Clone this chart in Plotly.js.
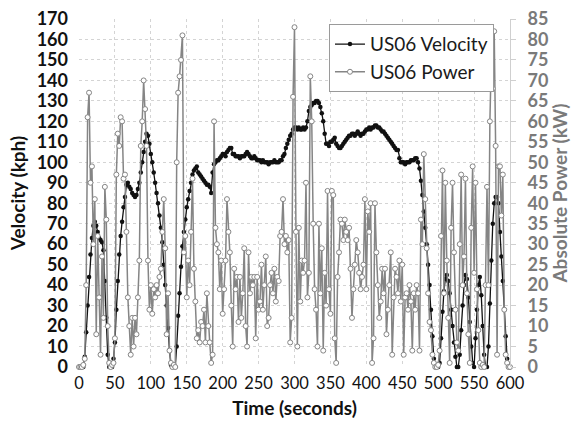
<!DOCTYPE html>
<html>
<head>
<meta charset="utf-8">
<script src="https://cdn.plot.ly/plotly-3.0.1.min.js"></script>
<style>
html,body{margin:0;padding:0;background:#fff;}
#chart{width:578px;height:424px;}
</style>
</head>
<body>
<div id="chart"></div>
<script>
// Sample times (seconds), one sample every 2 s from 0 to 600
const timeSec = [];
for (let i = 0; i <= 300; i++) timeSec.push(i * 2);

// US06 velocity (kph), every 2 s (each row = 20 s)
const velocityKph = [
  0,0,0,0,5,17,30,44,55,63,          // 0-18
  69,71,69,66,63,62,61,57,42,24,     // 20-38
  6,0,0,0,4,12,28,42,55,64,          // 40-58
  71,78,83,89,90,88,87,85,84,83,     // 60-78
  84,87,90,95,100,105,110,114,113,109, // 80-98
  104,100,95,90,85,80,74,68,61,50,   // 100-118
  40,30,19,8,1,0,0,0,10,25,          // 120-138
  36,49,59,66,72,78,82,86,90,94,     // 140-158
  96,97,98,95,94,93,92,91,90,89,     // 160-178
  89,88,85,95,99,100,101,101,102,103, // 180-198
  104,104,103,105,106,107,107,104,104,103, // 200-218
  103,103,102,103,103,103,104,105,104,103, // 220-238
  102,102,103,102,101,101,101,100,101,100, // 240-258
  100,100,99,100,100,100,101,100,100,100,  // 260-278
  101,101,103,104,107,109,111,113,114,116, // 280-298
  117,117,116,117,116,116,117,116,117,120, // 300-318
  125,127,128,129,129,130,130,129,127,124, // 320-338
  120,114,109,109,108,110,110,111,112,109, // 340-358
  108,107,107,108,109,110,111,112,113,113, // 360-378
  114,114,113,114,115,114,113,114,114,115, // 380-398
  116,116,117,116,117,117,118,118,117,117, // 400-418
  116,115,115,114,113,112,111,110,109,108, // 420-438
  107,106,106,102,100,100,100,99,100,100,  // 440-458
  100,101,101,101,102,102,100,97,91,84,    // 460-478
  76,68,60,50,40,28,15,4,0,0,              // 480-498
  0,2,14,27,37,43,45,42,36,28,             // 500-518
  20,12,5,0,0,6,18,30,40,45,               // 520-538
  43,34,22,10,2,0,14,28,40,44,             // 540-558
  35,20,6,0,0,10,31,52,70,80,              // 560-578
  83,83,80,66,54,42,28,15,4,0,             // 580-598
  0                                        // 600
];

// US06 absolute power (kW), every 2 s (each row = 20 s)
const powerKw = [
  0,0,0,0.5,2,20,61,67,45,49,        // 0-18
  30,41,8,32,17,3,27,12,44,36,       // 20-38
  10,1,0,0.5,1,7,47,57,54,61,        // 40-58
  60,46,47,33,17,10,3,12,5,12,       // 60-78
  8,17,26,54,60,70,63,54,26,14,      // 80-98
  20,13,19,17,20,18,22,24,33,41,     // 100-118
  29,8,18,4,1,0,0.5,0,50,67,         // 120-138
  71,75,81,28,32,17,26,20,33,46,     // 140-158
  24,16,7,9,6,11,10,14,6,18,         // 160-178
  10,6,1,3,60,34,30,28,19,26,        // 180-198
  13,19,26,41,33,28,15,5,24,19,      // 200-218
  22,11,22,12,18,29,10,5,28,18,      // 220-238
  22,20,22,7,22,14,16,25,14,20,      // 240-258
  27,10,12,20,23,18,24,16,22,21,     // 260-278
  32,33,41,30,32,28,31,6,12,66,      // 280-298
  83,33,5,34,16,26,23,26,45,17,      // 300-318
  23,71,60,35,19,14,5,35,18,29,      // 320-338
  4,23,15,43,19,13,43,42,7,1,        // 340-358
  22,28,36,35,31,36,33,31,34,24,     // 360-378
  12,19,25,31,28,23,19,22,25,41,     // 380-398
  19,38,33,40,1,7,40,28,20,12,       // 400-418
  16,24,18,24,8,14,20,28,3,17,       // 420-438
  24,22,18,26,16,25,3,17,18,14,      // 440-458
  20,16,4,18,14,20,18,4,36,30,       // 460-478
  52,41,29,18,11,9,3,1,0,0,          // 480-498
  0.5,4,32,48,18,45,26,12,1,34,      // 500-518
  45,28,14,6,4,30,47,20,27,46,       // 520-538
  18,8,1,34,49,23,45,19,9,1,         // 540-558
  0,0.5,0,20,44,20,60,75,68,82,      // 560-578
  54,3,49,49,37,47,14,3,1,0,         // 580-598
  0                                  // 600
];

const xTickVals = [0,50,100,150,200,250,300,350,400,450,500,550,600];
const yLeftTickVals = [0,10,20,30,40,50,60,70,80,90,100,110,120,130,140,150,160,170];
const yRightTickVals = [0,5,10,15,20,25,30,35,40,45,50,55,60,65,70,75,80,85];
const seriesNames = ['US06 Velocity', 'US06 Power'];

const gray = '#858585';
const gridCol = '#d4d4d4';
const FONT = 'Lato, "Open Sans", sans-serif';

const traces = [
  {
    x: timeSec, y: velocityKph, name: seriesNames[0],
    type: 'scatter', mode: 'lines+markers', cliponaxis: false,
    line: {color: '#111111', width: 1.3},
    marker: {symbol: 'circle', size: 4.5, color: '#111111'},
    yaxis: 'y'
  },
  {
    x: timeSec, y: powerKw, name: seriesNames[1],
    type: 'scatter', mode: 'lines+markers', cliponaxis: false,
    line: {color: gray, width: 1.5},
    marker: {symbol: 'circle', size: 5, color: '#ffffff', line: {color: gray, width: 1}},
    yaxis: 'y2'
  }
];

const layout = {
  width: 578, height: 424,
  margin: {l: 79, r: 68, t: 19, b: 57},
  paper_bgcolor: '#ffffff', plot_bgcolor: '#ffffff',
  font: {family: FONT, size: 16, color: '#111'},
  showlegend: true,
  legend: {
    x: 0.58, y: 0.985, xanchor: 'left', yanchor: 'top',
    bgcolor: '#ffffff', bordercolor: '#9a9a9a', borderwidth: 1,
    font: {family: FONT, size: 19, color: '#1a1a1a'},
    tracegroupgap: 0, itemwidth: 30
  },
  xaxis: {
    range: [0, 600], tickvals: xTickVals, ticktext: xTickVals.map(String),
    showgrid: true, gridcolor: gridCol, griddash: 'dot', gridwidth: 1,
    zeroline: false, showline: false, ticks: '', ticklabelstandoff: 4,
    tickfont: {family: FONT, size: 16.5, color: '#111'},
    title: {text: 'Time (seconds)', font: {family: FONT, size: 19, color: '#111', weight: 'bold'}, standoff: 10}
  },
  yaxis: {
    range: [0, 170], tickvals: yLeftTickVals, ticktext: yLeftTickVals.map(String),
    showgrid: true, gridcolor: gridCol, griddash: 'dot', gridwidth: 1,
    zeroline: false, showline: false, ticks: '', ticklabelstandoff: 10,
    tickfont: {family: FONT, size: 18, color: '#111', weight: 'bold'},
    title: {text: 'Velocity (kph)', font: {family: FONT, size: 19, color: '#111', weight: 'bold'}, standoff: 6}
  },
  yaxis2: {
    range: [0, 85], overlaying: 'y', side: 'right',
    tickvals: yRightTickVals, ticktext: yRightTickVals.map(String),
    showgrid: false, zeroline: false,
    showline: true, linecolor: '#cfcfcf', linewidth: 1,
    ticks: 'outside', ticklen: 5, tickcolor: '#cfcfcf',
    ticklabelstandoff: 8,
    tickfont: {family: FONT, size: 18, color: '#7a7a7a', weight: 'bold'},
    title: {text: 'Absolute Power (kW)', font: {family: FONT, size: 19, color: '#7a7a7a', weight: 'bold'}, standoff: 6}
  }
};

Plotly.newPlot('chart', traces, layout, {displayModeBar: false, staticPlot: true});
</script>
</body>
</html>
